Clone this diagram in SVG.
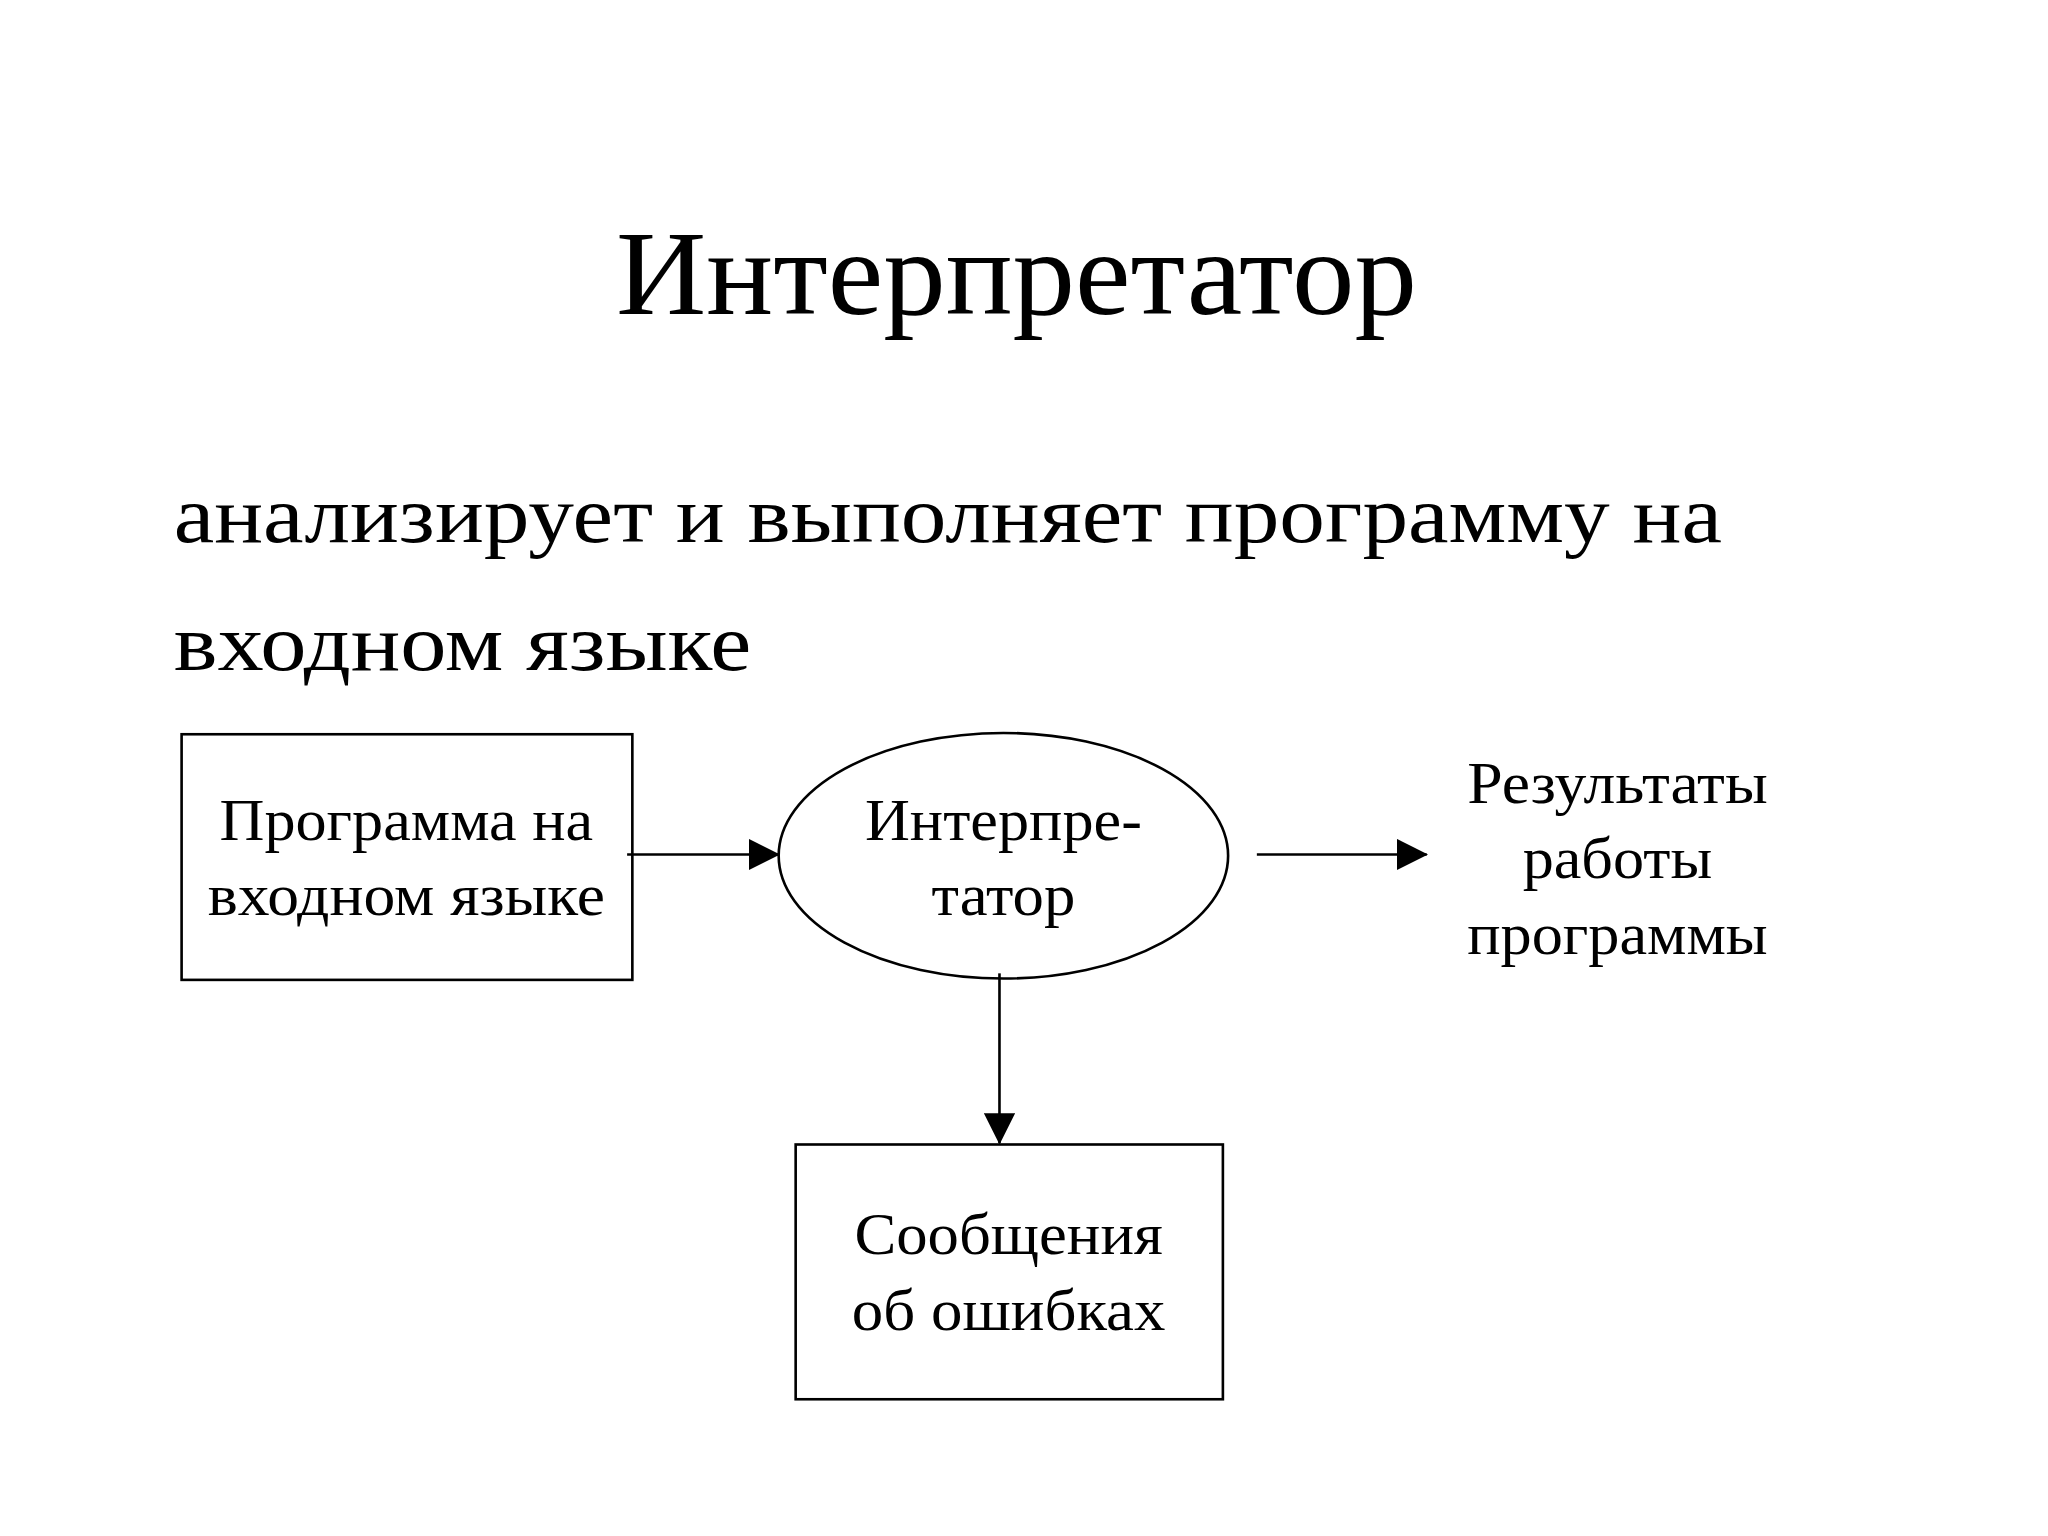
<svg xmlns="http://www.w3.org/2000/svg" width="2048" height="1536" viewBox="0 0 2048 1536">
<style>
text{font-family:"Liberation Serif","Times New Roman",serif;fill:#000}
.n{font-size:45px;text-anchor:middle}
.s{fill:#fff;stroke:#000;stroke-width:2}
.c{stroke:#000;stroke-width:2;fill:none}
</style>
<defs><marker id="b" markerWidth="24" markerHeight="24" refX="23" refY="12" orient="auto" markerUnits="userSpaceOnUse"><path d="M0,0 L24,12 L0,24 z" fill="#000"/></marker></defs>
<rect width="2048" height="1536" fill="#fff"/>
<g transform="scale(1.3065)">
<g id="title"><text x="778" y="240" font-size="92" text-anchor="middle" textLength="613" lengthAdjust="spacingAndGlyphs">Интерпретатор</text></g>
<g id="desc"><text x="133" y="415" font-size="62" textLength="1185" lengthAdjust="spacingAndGlyphs">анализирует и выполняет программу на</text><text x="133" y="513" font-size="62" textLength="442" lengthAdjust="spacingAndGlyphs">входном языке</text></g>
<g id="src"><rect class="s" x="139" y="562" width="345" height="188"/><text class="n" x="311" y="643" textLength="286" lengthAdjust="spacingAndGlyphs">Программа на</text><text class="n" x="311" y="700" textLength="304" lengthAdjust="spacingAndGlyphs">входном языке</text></g>
<g id="interp"><ellipse class="s" cx="768" cy="655" rx="172" ry="94"/><text class="n" x="768" y="643" textLength="212" lengthAdjust="spacingAndGlyphs">Интерпре-</text><text class="n" x="768" y="700" textLength="110" lengthAdjust="spacingAndGlyphs">татор</text></g>
<g id="res"><text class="n" x="1238" y="615" textLength="230" lengthAdjust="spacingAndGlyphs">Результаты</text><text class="n" x="1238" y="672" textLength="145" lengthAdjust="spacingAndGlyphs">работы</text><text class="n" x="1238" y="730" textLength="230" lengthAdjust="spacingAndGlyphs">программы</text></g>
<g id="err"><rect class="s" x="609" y="876" width="327" height="195"/><text class="n" x="772" y="960" textLength="236" lengthAdjust="spacingAndGlyphs">Сообщения</text><text class="n" x="772" y="1018" textLength="240" lengthAdjust="spacingAndGlyphs">об ошибках</text></g>
<g id="connectors">
<line class="c" x1="480" y1="654" x2="596" y2="654" marker-end="url(#b)"/>
<line class="c" x1="962" y1="654" x2="1092" y2="654" marker-end="url(#b)"/>
<line class="c" x1="765" y1="745" x2="765" y2="875" marker-end="url(#b)"/>
</g>
</g>
</svg>
